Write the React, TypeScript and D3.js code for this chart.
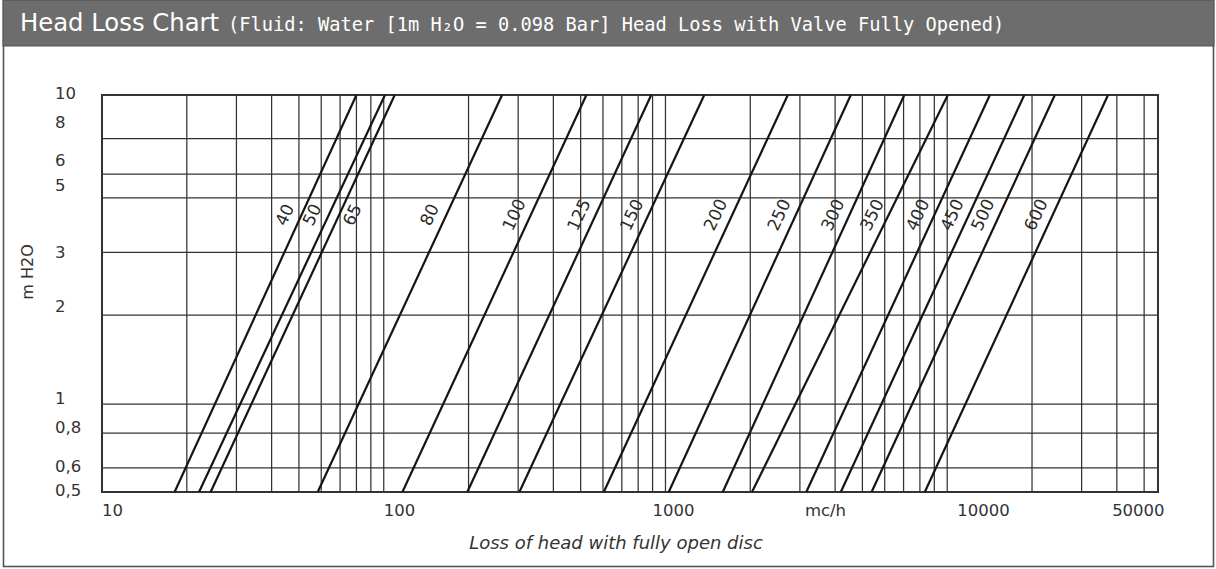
import React from "react";
import * as d3 from "d3";

// ---- data ----
const SIZES = ["40", "50", "65", "80", "100", "125", "150", "200", "250", "300", "350", "400", "450", "500", "600"];
// flow (m³/h) where each size line meets the 0.5 m head (bottom) and 10 m head (top)
const FLOW_AT_MIN_HEAD = [18.1, 22.1, 24.3, 58.3, 116.5, 198, 303, 604, 1027, 1597, 2028, 3161, 4191, 5391, 8327];
const FLOW_AT_MAX_HEAD = [80, 101, 109.4, 263, 524, 890, 1373, 2717, 4548, 7042, 10050, 14170, 18780, 24100, 37220];
const HEAD_RANGE = [0.5, 10];
const FLOW_RANGE = [10, 56000];

const Y_TICK_VALUES = [10, 8, 6, 5, 3, 2, 1, 0.8, 0.6, 0.5];
const Y_TICK_LABELS = ["10", "8", "6", "5", "3", "2", "1", "0,8", "0,6", "0,5"];
const Y_GRID_VALUES = [10, 7.2, 5.5, 4.6, 3.05, 1.9, 0.97, 0.78, 0.6, 0.5];

const X_GRID_VALUES = [
  20, 30, 40, 50, 60, 70, 80, 90, 100,
  200, 300, 400, 500, 600, 700, 800, 900, 1000,
  2000, 3000, 4000, 5000, 6000, 7000, 8000, 9000, 10000,
  20000, 30000, 40000, 50000,
];
const X_TICK_VALUES = [10, 100, 1000, 10000, 50000];
const X_TICK_LABELS = ["10", "100", "1000", "10000", "50000"];
const UNIT_LABEL = "mc/h";
const UNIT_AT = 3000;
const LABEL_HEAD = 4.05; // head at which size labels sit
const LABELS_RIGHT_OF_LINE = ["65"];

const TITLE_MAIN = "Head Loss Chart";
const TITLE_SUB = "(Fluid: Water [1m H\u2082O = 0.098 Bar] Head Loss with Valve Fully Opened)";
const X_TITLE = "Loss of head with fully open disc";
const Y_TITLE = "m H2O";

// ---- layout ----
const W = 1216;
const H = 569;
const PLOT = { left: 102, right: 1158, top: 95, bottom: 492 };
const X_LABEL_DX: Record<string, number> = { "10": 0, "100": 0, "1000": -13, "10000": 10, "50000": -32 };
const FONT = "'DejaVu Sans', Verdana, sans-serif";
const MONO = "'DejaVu Sans Mono', 'Liberation Mono', monospace";

export default function App() {
  const x = d3.scaleLog().domain(FLOW_RANGE).range([PLOT.left, PLOT.right]);
  const y = d3.scaleLog().domain(HEAD_RANGE).range([PLOT.bottom, PLOT.top]);

  const lines = SIZES.map((s, i) => {
    const pts: [number, number][] = [
      [FLOW_AT_MIN_HEAD[i], HEAD_RANGE[0]],
      [FLOW_AT_MAX_HEAD[i], HEAD_RANGE[1]],
    ];
    const path = d3
      .line<[number, number]>()
      .x((d) => x(d[0]))
      .y((d) => y(d[1]))(pts);
    const xb = x(pts[0][0]);
    const xt = x(pts[1][0]);
    const yb = y(pts[0][1]);
    const yt = y(pts[1][1]);
    const ly = y(LABEL_HEAD);
    const t = (yb - ly) / (yb - yt);
    const lxOnLine = xb + t * (xt - xb);
    const right = LABELS_RIGHT_OF_LINE.includes(s);
    const lx = lxOnLine + (right ? 13 : -17);
    const angle = (Math.atan2(yb - yt, xt - xb) * 180) / Math.PI;
    return { s, path, lx, ly, angle };
  });

  return (
    <svg
      width={W}
      height={H}
      viewBox={`0 0 ${W} ${H}`}
      style={{ position: "absolute", left: 0, top: 0, background: "#fff" }}
      fontFamily={FONT}
    >
      {/* frame */}
      <rect x={3.5} y={0.5} width={1210} height={566} fill="#fff" stroke="#555" strokeWidth={1.6} />
      <rect x={3} y={0} width={1211} height={46} fill="#6d6d6d" stroke="#505050" strokeWidth={1} />
      <text x={20} y={31} fill="#fff" fontSize={24.3}>
        {TITLE_MAIN}
      </text>
      <text x={228} y={31} fill="#fff" fontSize={18.7} fontFamily={MONO}>
        {TITLE_SUB}
      </text>

      {/* grid */}
      <g stroke="#333" strokeWidth={1.25}>
        {X_GRID_VALUES.map((v) => (
          <line key={"vx" + v} x1={x(v)} x2={x(v)} y1={PLOT.top} y2={PLOT.bottom} />
        ))}
        {Y_GRID_VALUES.map((v) => (
          <line key={"hy" + v} x1={PLOT.left} x2={PLOT.right} y1={y(v)} y2={y(v)} />
        ))}
      </g>
      <rect
        x={PLOT.left}
        y={PLOT.top}
        width={PLOT.right - PLOT.left}
        height={PLOT.bottom - PLOT.top}
        fill="none"
        stroke="#333"
        strokeWidth={2}
      />

      {/* size lines */}
      <g fill="none" stroke="#151515" strokeWidth={2.2}>
        {lines.map((l) => (
          <path key={"p" + l.s} d={l.path || ""} />
        ))}
      </g>
      <g fill="#2a2a2a" fontSize={17}>
        {lines.map((l) => (
          <text
            key={"t" + l.s}
            transform={`translate(${l.lx},${l.ly}) rotate(${-l.angle})`}
            textAnchor="middle"
            dy="0.35em"
          >
            {l.s}
          </text>
        ))}
      </g>

      {/* y ticks */}
      <g fill="#333" fontSize={16.5}>
        {Y_TICK_VALUES.map((v, i) => (
          <text key={"yl" + v} x={55} y={y(v) - 2} dy="0.35em">
            {Y_TICK_LABELS[i]}
          </text>
        ))}
      </g>
      <text
        transform={`translate(33,${272}) rotate(-90)`}
        textAnchor="middle"
        fill="#333"
        fontSize={16}
      >
        {Y_TITLE}
      </text>

      {/* x ticks */}
      <g fill="#333" fontSize={16.5}>
        {X_TICK_VALUES.map((v, i) => (
          <text key={"xl" + v} x={x(v) + X_LABEL_DX[X_TICK_LABELS[i]]} y={516}>
            {X_TICK_LABELS[i]}
          </text>
        ))}
        <text x={x(UNIT_AT) + 5} y={516}>
          {UNIT_LABEL}
        </text>
      </g>
      <text
        x={(PLOT.left + PLOT.right) / 2 - 14}
        y={549}
        textAnchor="middle"
        fontStyle="italic"
        fill="#333"
        fontSize={18}
      >
        {X_TITLE}
      </text>
    </svg>
  );
}
